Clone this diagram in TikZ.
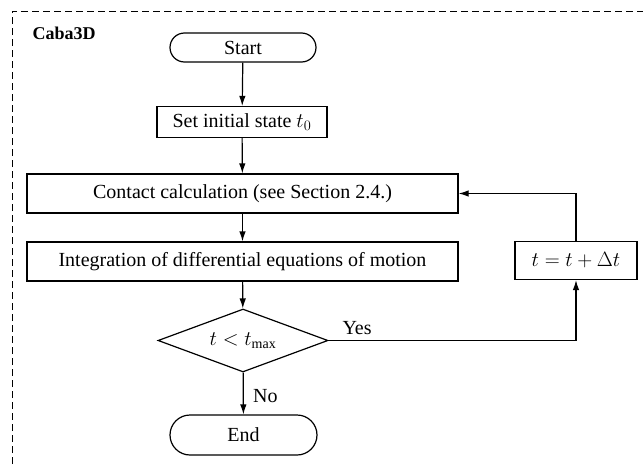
\documentclass[tikz,border=0pt]{standalone}
\usepackage{fontspec}
\setmainfont{Liberation Serif}
\usetikzlibrary{arrows.meta,shapes.geometric,positioning}
\begin{document}
\begin{tikzpicture}[x=1pt,y=-1pt,
  every node/.style={font=\fontsize{20}{24}\selectfont},
  box/.style={draw,line width=1.2pt,inner sep=0pt,anchor=center},
  flow/.style={line width=1.2pt,-{Latex[length=10pt,width=6.5pt]}},
  ]
\useasboundingbox (0,0) rectangle (643,466);
% dashed frame (cut off at right and bottom)
\draw[line width=0.9pt,dash pattern=on 7pt off 4pt] (12,475) -- (12,11) -- (650,11);
\node[font=\fontsize{18}{22}\selectfont\bfseries,anchor=west] (title) at (29,33) {Caba3D};

\node[box,rounded corners=14.5pt,minimum width=146pt,minimum height=29pt] (start) at (243,47.5) {Start};
\node[box,minimum width=170pt,minimum height=31pt] (init) at (242,122) {Set initial state $t_0$};
\node[box,minimum width=431pt,minimum height=39pt] (contact) at (242.5,193.5) {Contact calculation (see Section 2.4.)};
\node[box,minimum width=431pt,minimum height=39pt] (integ) at (242.5,261.5) {Integration of differential equations of motion};
\node[box,minimum width=122pt,minimum height=38pt] (incr) at (576,260.5) {$t = t + \Delta t$};
\node[box,diamond,aspect=2.7,minimum width=170pt,minimum height=63pt] (cond) at (243,340.5) {$t < t_{\mathrm{max}}$};
\node[box,rounded corners=20pt,minimum width=147pt,minimum height=40pt] (end) at (243.5,435) {End};

\draw[flow] (start) -- (init);
\draw[flow] (init) -- (contact);
\draw[flow] (contact) -- (integ);
\draw[flow] (integ) -- (cond);
\draw[flow] (cond) -- node[right,pos=0.55,xshift=6pt] (no) {No} (end);
\draw[flow] (cond.east) -- node[pos=0.0,anchor=south west,xshift=10pt,yshift=2pt] (yes) {Yes} (cond.east -| incr.south) -- (incr.south);
\draw[flow] (incr.north) -- (incr.north |- contact.east) -- (contact.east);
\end{tikzpicture}
\end{document}
